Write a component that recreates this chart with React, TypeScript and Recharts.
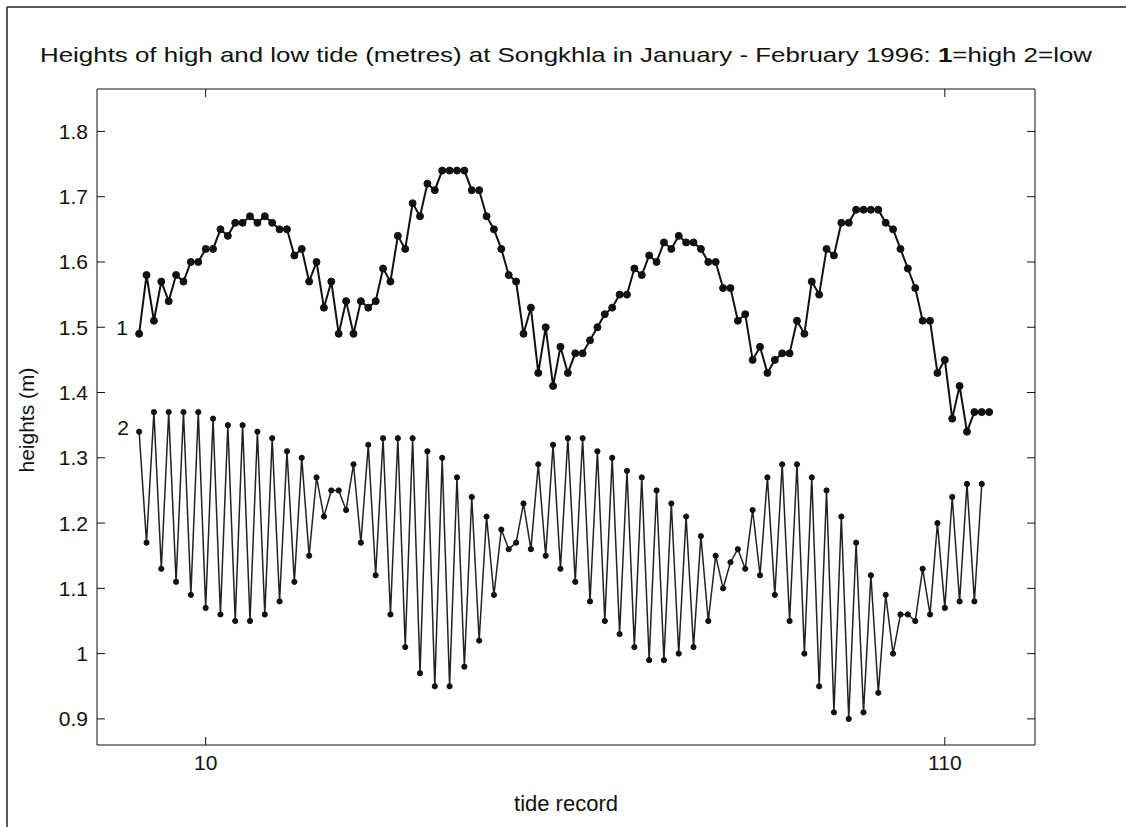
import React from 'react';
import { LineChart, Line, XAxis, YAxis } from 'recharts';

// tide record numbers, 1..116
const records = Array.from({ length: 116 }, (_, i) => i + 1);

// series 1: high tide heights (m)
const highTide = [
  1.49, 1.58, 1.51, 1.57, 1.54, 1.58, 1.57, 1.60, 1.60, 1.62,
  1.62, 1.65, 1.64, 1.66, 1.66, 1.67, 1.66, 1.67, 1.66, 1.65,
  1.65, 1.61, 1.62, 1.57, 1.60, 1.53, 1.57, 1.49, 1.54, 1.49,
  1.54, 1.53, 1.54, 1.59, 1.57, 1.64, 1.62, 1.69, 1.67, 1.72,
  1.71, 1.74, 1.74, 1.74, 1.74, 1.71, 1.71, 1.67, 1.65, 1.62,
  1.58, 1.57, 1.49, 1.53, 1.43, 1.50, 1.41, 1.47, 1.43, 1.46,
  1.46, 1.48, 1.50, 1.52, 1.53, 1.55, 1.55, 1.59, 1.58, 1.61,
  1.60, 1.63, 1.62, 1.64, 1.63, 1.63, 1.62, 1.60, 1.60, 1.56,
  1.56, 1.51, 1.52, 1.45, 1.47, 1.43, 1.45, 1.46, 1.46, 1.51,
  1.49, 1.57, 1.55, 1.62, 1.61, 1.66, 1.66, 1.68, 1.68, 1.68,
  1.68, 1.66, 1.65, 1.62, 1.59, 1.56, 1.51, 1.51, 1.43, 1.45,
  1.36, 1.41, 1.34, 1.37, 1.37, 1.37,
];

// series 2: low tide heights (m)
const lowTide = [
  1.34, 1.17, 1.37, 1.13, 1.37, 1.11, 1.37, 1.09, 1.37, 1.07,
  1.36, 1.06, 1.35, 1.05, 1.35, 1.05, 1.34, 1.06, 1.33, 1.08,
  1.31, 1.11, 1.30, 1.15, 1.27, 1.21, 1.25, 1.25, 1.22, 1.29,
  1.17, 1.32, 1.12, 1.33, 1.06, 1.33, 1.01, 1.33, 0.97, 1.31,
  0.95, 1.30, 0.95, 1.27, 0.98, 1.24, 1.02, 1.21, 1.09, 1.19,
  1.16, 1.17, 1.23, 1.16, 1.29, 1.15, 1.32, 1.13, 1.33, 1.11,
  1.33, 1.08, 1.31, 1.05, 1.30, 1.03, 1.28, 1.01, 1.27, 0.99,
  1.25, 0.99, 1.23, 1.00, 1.21, 1.01, 1.18, 1.05, 1.15, 1.10,
  1.14, 1.16, 1.13, 1.22, 1.12, 1.27, 1.09, 1.29, 1.05, 1.29,
  1.00, 1.27, 0.95, 1.25, 0.91, 1.21, 0.90, 1.17, 0.91, 1.12,
  0.94, 1.09, 1.00, 1.06, 1.06, 1.05, 1.13, 1.06, 1.20, 1.07,
  1.24, 1.08, 1.26, 1.08, 1.26,
];

const xTicks = [10, 110];
const yTicks = [0.9, 1, 1.1, 1.2, 1.3, 1.4, 1.5, 1.6, 1.7, 1.8];

const data = records.map((r, i) => ({
  record: r,
  high: highTide[i],
  low: lowTide[i],
}));

const FONT = '"Liberation Sans", Arial, sans-serif';
const INK = '#111';

// puts the series number just left of its first point
const seriesTag = (tag: string, dx: number, dy: number) => (props: any) => {
  if (props.index !== 0) return null;
  return (
    <text x={props.x + dx} y={props.y + dy} fontFamily={FONT} fontSize={21} fill={INK} textAnchor="middle" dominantBaseline="central">
      {tag}
    </text>
  );
};

export default function App() {
  const W = 1126;
  const H = 827;
  return (
    <div style={{ position: 'fixed', left: 0, top: 0, width: W, height: H, background: '#fff', overflow: 'hidden' }}>
      <LineChart width={W} height={H} data={data} margin={{ top: 88, right: 90, bottom: 22, left: 37 }}>
        <XAxis
          xAxisId="b"
          dataKey="record"
          type="number"
          domain={[-4.7, 122.2]}
          ticks={xTicks}
          allowDataOverflow
          height={60}
          tickSize={-8}
          tickMargin={18}
          stroke={INK}
          tick={{ fill: INK, fontSize: 21, fontFamily: FONT }}
        />
        <XAxis
          xAxisId="t"
          orientation="top"
          dataKey="record"
          type="number"
          domain={[-4.7, 122.2]}
          ticks={xTicks}
          allowDataOverflow
          height={1}
          tickSize={-8}
          stroke={INK}
          tickFormatter={() => ''}
        />
        <YAxis
          yAxisId="l"
          type="number"
          domain={[0.86, 1.865]}
          ticks={yTicks}
          allowDataOverflow
          width={60}
          tickSize={-8}
          tickMargin={17}
          stroke={INK}
          tick={{ fill: INK, fontSize: 21, fontFamily: FONT }}
          tickFormatter={(v: number) => String(v)}
        />
        <YAxis
          yAxisId="r"
          orientation="right"
          type="number"
          domain={[0.86, 1.865]}
          ticks={yTicks}
          allowDataOverflow
          width={1}
          tickSize={-8}
          stroke={INK}
          tickFormatter={() => ''}
        />
        <Line
          xAxisId="b"
          yAxisId="l"
          type="linear"
          dataKey="high"
          stroke={INK}
          strokeWidth={2}
          dot={{ r: 3.5, fill: INK, stroke: INK, strokeWidth: 1 }}
          isAnimationActive={false}
          label={seriesTag('1', -17, -6)}
        />
        <Line
          xAxisId="b"
          yAxisId="l"
          type="linear"
          dataKey="low"
          stroke="#222"
          strokeWidth={1.5}
          dot={{ r: 2.6, fill: INK, stroke: INK, strokeWidth: 1 }}
          isAnimationActive={false}
          label={seriesTag('2', -16, -4)}
        />
      </LineChart>
      <svg width={W} height={H} style={{ position: 'absolute', left: 0, top: 0, pointerEvents: 'none' }}>
        <line x1={7} y1={7} x2={W} y2={7} stroke="#222" strokeWidth={1.5} />
        <line x1={7} y1={7} x2={7} y2={H} stroke="#222" strokeWidth={1.5} />
        <text x={40} y={62} fontFamily={FONT} fontSize={21} fill={INK} textLength={1052} lengthAdjust="spacingAndGlyphs">
          Heights of high and low tide (metres) at Songkhla in January - February 1996: <tspan fontWeight="bold">1</tspan>=high 2=low
        </text>
        <text x={26} y={420} fontFamily={FONT} fontSize={21} fill={INK} textAnchor="middle" dominantBaseline="central" transform="rotate(-90 26 420)">
          heights (m)
        </text>
        <text x={566} y={803} fontFamily={FONT} fontSize={22} fill={INK} textAnchor="middle" dominantBaseline="central">
          tide record
        </text>
      </svg>
    </div>
  );
}
